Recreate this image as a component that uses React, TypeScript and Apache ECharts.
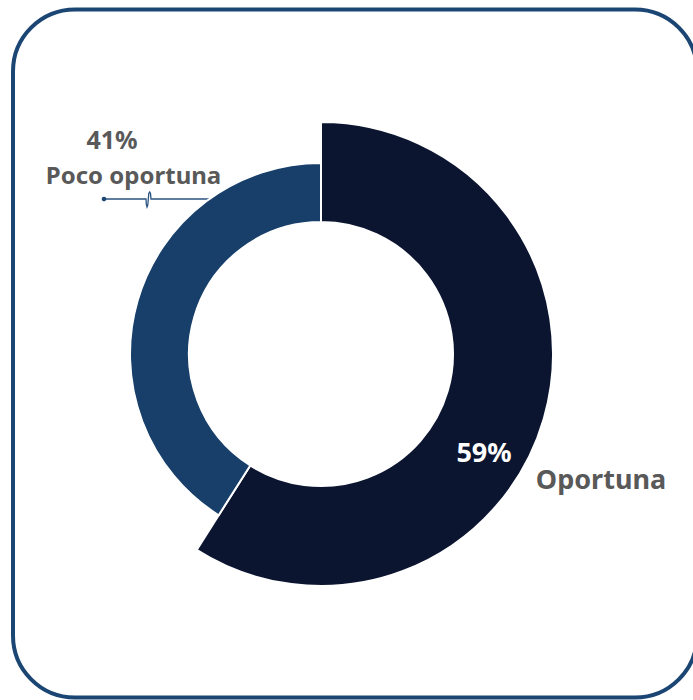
import React, { useEffect, useRef } from 'react';
import * as echarts from 'echarts';

const categories = ['Oportuna', 'Poco oportuna'];
const values = [59, 41];

export default function App() {
  const ref = useRef<HTMLDivElement>(null);
  useEffect(() => {
    document.body.style.margin = '0';
    const chart = echarts.init(ref.current!, null, { renderer: 'svg' });
    const font = '"Noto Sans", sans-serif';
    const pct = (i: number) => `${values[i]}%`;
    const center = [321, 354];
    chart.setOption({
      animation: false,
      series: [
        {
          type: 'pie',
          center,
          radius: [132, 232],
          startAngle: 90,
          clockwise: true,
          silent: true,
          label: { show: false },
          labelLine: { show: false },
          itemStyle: { borderColor: '#ffffff', borderWidth: 2 },
          data: [
            { name: categories[0], value: values[0], itemStyle: { color: '#0b1530' } },
            { name: categories[1], value: values[1], itemStyle: { color: 'rgba(0,0,0,0)', borderWidth: 0 } },
          ],
        },
        {
          type: 'pie',
          center,
          radius: [132, 191],
          startAngle: 90,
          clockwise: true,
          silent: true,
          label: { show: false },
          labelLine: { show: false },
          itemStyle: { borderColor: '#ffffff', borderWidth: 2 },
          data: [
            { name: categories[0], value: values[0], itemStyle: { color: 'rgba(0,0,0,0)', borderWidth: 0 } },
            { name: categories[1], value: values[1], itemStyle: { color: '#173f69' } },
          ],
        },
      ],
      graphic: [
        {
          type: 'rect',
          z: 0,
          shape: { x: 13, y: 9.5, width: 684, height: 688, r: 62 },
          style: { fill: 'none', stroke: '#1b4674', lineWidth: 4 },
        },
        {
          type: 'polyline',
          z: 0,
          shape: {
            points: [
              [104, 199], [146, 199], [146.3, 204.5], [147, 207], [147.8, 205], [148.3, 199],
              [148.8, 193.5], [149.7, 192], [150.5, 193.5], [151, 199], [215, 199],
            ],
          },
          style: { fill: 'none', stroke: '#2b5380', lineWidth: 1.3 },
        },
        {
          type: 'circle',
          shape: { cx: 104, cy: 199, r: 2.3 },
          style: { fill: '#1b4674' },
        },
        {
          type: 'text',
          x: 112, y: 139,
          style: { text: pct(1), font: `bold 25px ${font}`, fill: '#595959', align: 'center', verticalAlign: 'middle' },
        },
        {
          type: 'text',
          x: 133.5, y: 174,
          style: { text: categories[1], font: `bold 24px ${font}`, fill: '#595959', align: 'center', verticalAlign: 'middle' },
        },
        {
          type: 'text',
          z: 10,
          x: 484, y: 451,
          style: { text: pct(0), font: `bold 27px ${font}`, fill: '#ffffff', align: 'center', verticalAlign: 'middle' },
        },
        {
          type: 'text',
          x: 601, y: 478,
          style: { text: categories[0], font: `bold 27px ${font}`, fill: '#595959', align: 'center', verticalAlign: 'middle' },
        },
      ],
    });
    return () => chart.dispose();
  }, []);
  return <div ref={ref} style={{ width: 693, height: 700 }} />;
}
